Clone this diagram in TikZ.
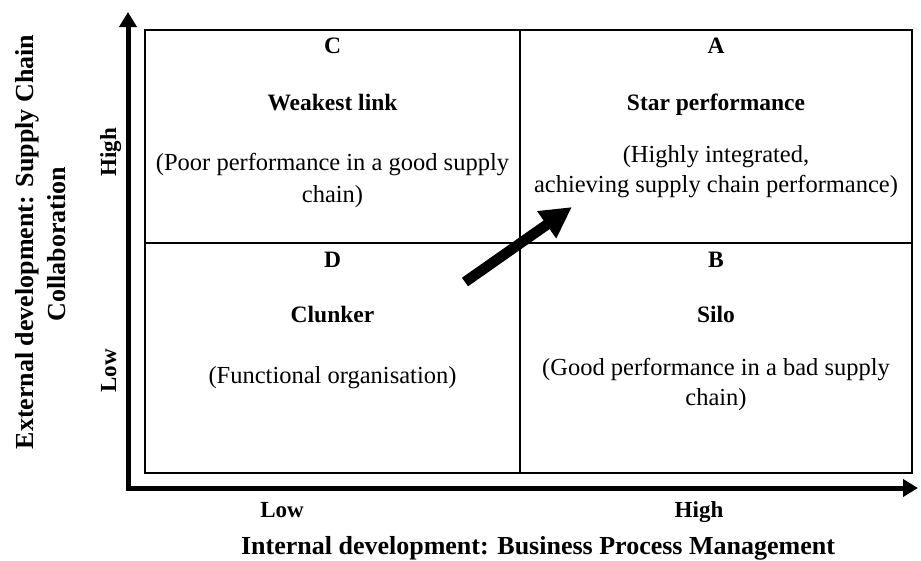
\documentclass[tikz,border=0pt]{standalone}
\usepackage{fontspec}
\setmainfont{Liberation Serif}
\usetikzlibrary{arrows.meta}
\begin{document}
\begin{tikzpicture}[x=1pt,y=-1pt,
  qtext/.style={font=\fontsize{24.5}{28}\selectfont, anchor=base, inner sep=0pt, text=black},
  qtitle/.style={font=\fontsize{23.5}{28}\selectfont\bfseries, anchor=base, inner sep=0pt, text=black},
  axlabel/.style={font=\fontsize{23}{28}\selectfont\bfseries, anchor=base, inner sep=0pt},
  axtitle/.style={font=\fontsize{26}{30}\selectfont\bfseries, anchor=base, inner sep=0pt},
  gridline/.style={line width=2.2pt, draw=black},
  axisline/.style={line width=5pt, draw=black, line join=miter,
    {Triangle[length=15pt,width=17pt]}-{Triangle[length=15pt,width=17pt]}},
  bigarrow/.style={line width=10.5pt, draw=black, -{Triangle[length=31pt,width=31pt]}}
]
\useasboundingbox (0,0) rectangle (921,560);

% axes
\coordinate (ytip) at (128,12);
\coordinate (origin) at (128,488);
\coordinate (xtip) at (918,488);
\draw[axisline] (ytip) -- (origin) -- (xtip);

% matrix box
\coordinate (tl) at (145,30);
\coordinate (br) at (912,473);
\coordinate (mt) at (520,30);
\coordinate (mb) at (520,473);
\coordinate (ml) at (145,243);
\coordinate (mr) at (912,243);
\draw[gridline] (tl) rectangle (br);
\draw[gridline] (mt) -- (mb);
\draw[gridline] (ml) -- (mr);

% quadrant C
\node[qtitle] (C) at (332.5,53) {C};
\node[qtitle] (Ct) at (332.5,110) {Weakest link};
\node[qtext] (Cd1) at (332.5,170) {(Poor performance in a good supply};
\node[qtext] (Cd2) at (332.5,202) {chain)};
% quadrant A
\node[qtitle] (A) at (716,53) {A};
\node[qtitle] (At) at (716,110) {Star performance};
\node[qtext] (Ad1) at (716,162) {(Highly integrated,};
\node[qtext] (Ad2) at (716,192) {achieving supply chain performance)};
% quadrant D
\node[qtitle] (D) at (332.5,267) {D};
\node[qtitle] (Dt) at (332.5,322) {Clunker};
\node[qtext] (Dd1) at (332.5,383) {(Functional organisation)};
% quadrant B
\node[qtitle] (B) at (716,267) {B};
\node[qtitle] (Bt) at (716,322) {Silo};
\node[qtext] (Bd1) at (716,375) {(Good performance in a bad supply};
\node[qtext] (Bd2) at (716,405) {chain)};

% big arrow
\coordinate (tail) at (465,282);
\coordinate (tip) at (572,207);
\draw[bigarrow] (tail) -- (tip);

% axis labels
\node[axlabel] (xlow) at (282,517) {Low};
\node[axlabel] (xhigh) at (699,517) {High};
\node[axtitle] (xtitle) at (538,554) {Internal development: Business Process Management};
\node[axlabel, rotate=90] (yhigh) at (116,152) {High};
\node[axlabel, rotate=90] (ylow) at (116,371) {Low};
\node[axtitle, rotate=90] (ytitle1) at (34,242) {External development: Supply Chain};
\node[axtitle, rotate=90] (ytitle2) at (65,244) {Collaboration};
\end{tikzpicture}
\end{document}
